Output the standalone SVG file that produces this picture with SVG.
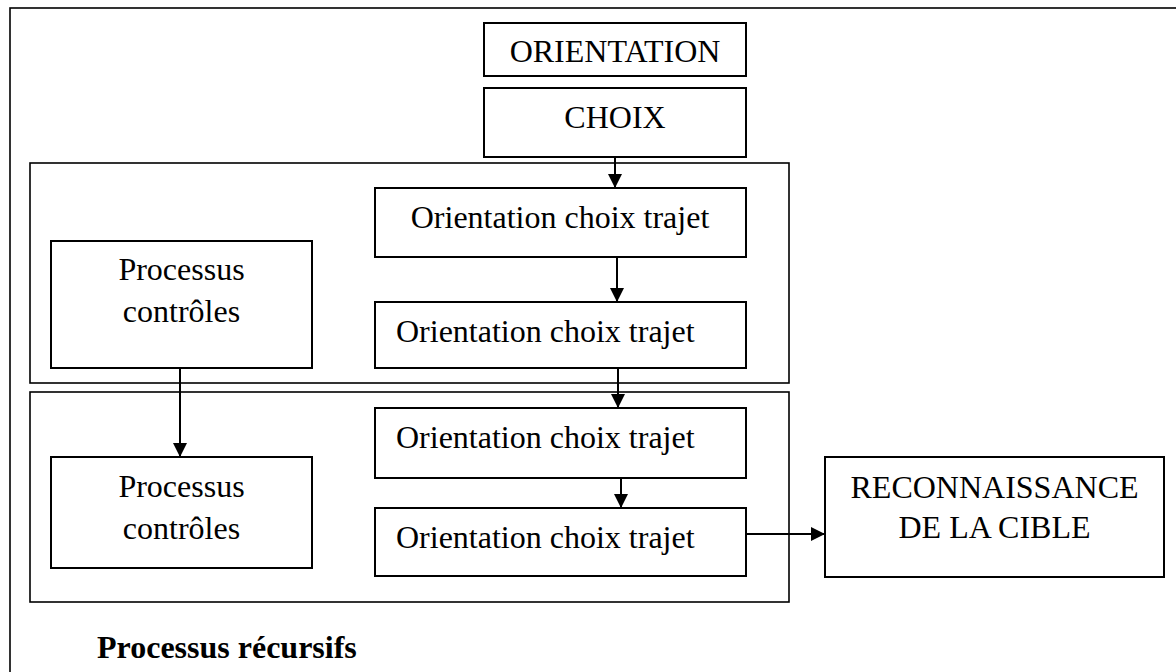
<svg xmlns="http://www.w3.org/2000/svg" width="1176" height="672" viewBox="0 0 1176 672">
  <style>
    .box { fill: #fff; stroke: #000; stroke-width: 2; }
    .frame { fill: none; stroke: #000; stroke-width: 1.6; }
    .lbl { font-family: "Liberation Serif", "Times New Roman", serif; font-size: 32px; fill: #000; }
    .mid { text-anchor: middle; }
    .bold { font-weight: bold; }
    .wire { fill: none; stroke: #000; stroke-width: 2; }
  </style>
  <defs>
    <marker id="arrow" markerWidth="14" markerHeight="14" refX="14" refY="7" orient="auto" markerUnits="userSpaceOnUse">
      <path d="M0,0 L14,7 L0,14 Z" fill="#000"/>
    </marker>
  </defs>

  <rect x="0" y="0" width="1176" height="672" fill="#fff"/>

  <!-- outer frame (continues past the page edge on the right and bottom) -->
  <rect class="frame" x="10" y="8" width="1200" height="700"/>

  <!-- recursive-process containers -->
  <g id="group-1">
    <rect class="frame" x="30" y="163" width="759" height="220"/>
  </g>
  <g id="group-2">
    <rect class="frame" x="30" y="392" width="759" height="210"/>
  </g>

  <g id="orientation">
    <rect class="box" x="484" y="23" width="262" height="53"/>
    <text class="lbl mid" x="615" y="62">ORIENTATION</text>
  </g>
  <g id="choix">
    <rect class="box" x="484" y="88" width="262" height="69"/>
    <text class="lbl mid" x="615" y="128">CHOIX</text>
  </g>

  <g id="trajet-1">
    <rect class="box" x="375" y="188" width="371" height="69"/>
    <text class="lbl mid" x="560" y="228">Orientation choix trajet</text>
  </g>
  <g id="trajet-2">
    <rect class="box" x="375" y="302" width="371" height="66"/>
    <text class="lbl" x="396" y="342">Orientation choix trajet</text>
  </g>
  <g id="trajet-3">
    <rect class="box" x="375" y="408" width="371" height="70"/>
    <text class="lbl" x="396" y="448">Orientation choix trajet</text>
  </g>
  <g id="trajet-4">
    <rect class="box" x="375" y="508" width="371" height="68"/>
    <text class="lbl" x="396" y="548">Orientation choix trajet</text>
  </g>

  <g id="controle-1">
    <rect class="box" x="51" y="241" width="261" height="127"/>
    <text class="lbl mid" x="181.5" y="280">Processus</text>
    <text class="lbl mid" x="181.5" y="322">contrôles</text>
  </g>
  <g id="controle-2">
    <rect class="box" x="51" y="457" width="261" height="111"/>
    <text class="lbl mid" x="181.5" y="497">Processus</text>
    <text class="lbl mid" x="181.5" y="539">contrôles</text>
  </g>

  <g id="reconnaissance">
    <rect class="box" x="825" y="457" width="339" height="120"/>
    <text class="lbl mid" x="994.5" y="498">RECONNAISSANCE</text>
    <text class="lbl mid" x="994.5" y="538">DE LA CIBLE</text>
  </g>

  <g id="connectors">
    <line class="wire" x1="615" y1="157" x2="615" y2="188" marker-end="url(#arrow)"/>
    <line class="wire" x1="617" y1="257" x2="617" y2="302" marker-end="url(#arrow)"/>
    <line class="wire" x1="618" y1="368" x2="618" y2="408" marker-end="url(#arrow)"/>
    <line class="wire" x1="621" y1="478" x2="621" y2="508" marker-end="url(#arrow)"/>
    <line class="wire" x1="180" y1="368" x2="180" y2="457" marker-end="url(#arrow)"/>
    <line class="wire" x1="746" y1="534" x2="825" y2="534" marker-end="url(#arrow)"/>
  </g>

  <text class="lbl bold" x="97" y="658">Processus récursifs</text>
</svg>
